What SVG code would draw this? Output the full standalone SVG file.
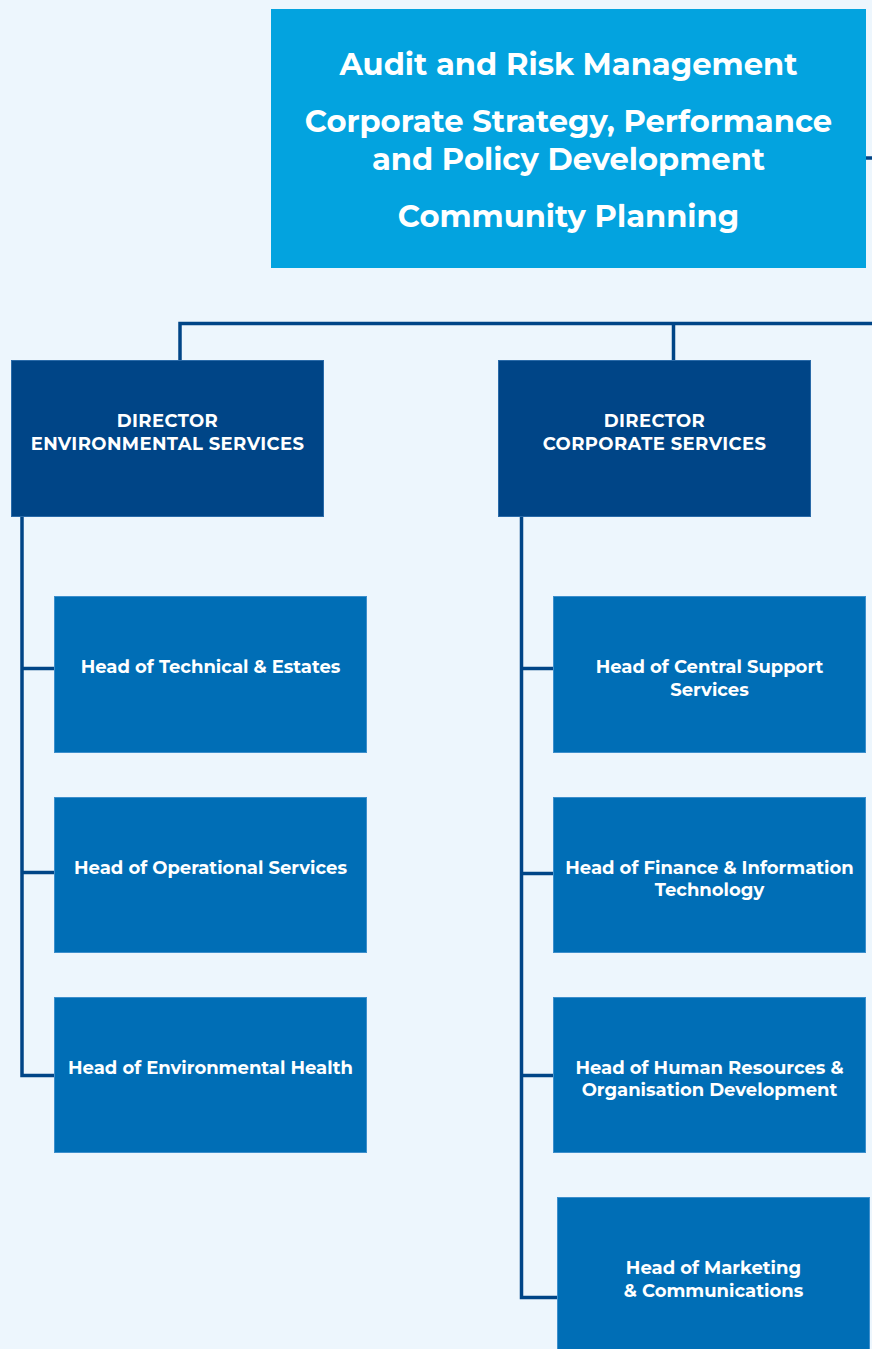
<svg xmlns="http://www.w3.org/2000/svg" width="872" height="1349" viewBox="0 0 872 1349">
<style>
.bg{fill:#edf6fd}
.top{fill:#03a3df}
.dir{fill:#004587;stroke:#2a6aa8;stroke-width:1}
.head{fill:#006eb6;stroke:#3d8fcc;stroke-width:1}
.conn{fill:none;stroke:#004587;stroke-width:3.5}
text{font-family:"Montserrat","Liberation Sans","Open Sans",Arial,sans-serif;font-weight:bold;fill:#ffffff;text-anchor:middle}
.t1{font-size:30.6px}
.t2{font-size:18px}
.t3{font-size:18px;letter-spacing:0.4px}
</style>
<rect class="bg" x="0" y="0" width="872" height="1349"/>
<g id="connectors">
<line class="conn" x1="866" y1="158" x2="872" y2="158"/>
<polyline class="conn" points="180,360 180,323.5 872,323.5"/>
<line class="conn" x1="673.5" y1="323.5" x2="673.5" y2="360"/>
<polyline class="conn" points="22,516 22,1075.5 54,1075.5"/>
<line class="conn" x1="22" y1="668.5" x2="54" y2="668.5"/>
<line class="conn" x1="22" y1="872.5" x2="54" y2="872.5"/>
<polyline class="conn" points="521.5,516 521.5,1297.5 557,1297.5"/>
<line class="conn" x1="521.5" y1="668.5" x2="553" y2="668.5"/>
<line class="conn" x1="521.5" y1="873.5" x2="553" y2="873.5"/>
<line class="conn" x1="521.5" y1="1075.5" x2="553" y2="1075.5"/>
</g>
<g id="node-top">
<rect class="top" x="271" y="9" width="595" height="259"/>
<text class="t1" x="568.5" y="75">Audit and Risk Management</text>
<text class="t1" x="568.5" y="132">Corporate Strategy, Performance</text>
<text class="t1" x="568.5" y="170">and Policy Development</text>
<text class="t1" x="568.5" y="227">Community Planning</text>
</g>
<g id="node-dir-env">
<rect class="dir" x="11.5" y="360.5" width="312" height="156"/>
<text class="t3" x="167.5" y="427">DIRECTOR</text>
<text class="t3" x="167.5" y="450">ENVIRONMENTAL SERVICES</text>
</g>
<g id="node-dir-corp">
<rect class="dir" x="498.5" y="360.5" width="312" height="156"/>
<text class="t3" x="654.5" y="427">DIRECTOR</text>
<text class="t3" x="654.5" y="450">CORPORATE SERVICES</text>
</g>
<g id="node-technical">
<rect class="head" x="54.5" y="596.5" width="312" height="156"/>
<text class="t2" x="210.5" y="673">Head of Technical &amp; Estates</text>
</g>
<g id="node-operational">
<rect class="head" x="54.5" y="797.5" width="312" height="155"/>
<text class="t2" x="210.5" y="874">Head of Operational Services</text>
</g>
<g id="node-envhealth">
<rect class="head" x="54.5" y="997.5" width="312" height="155"/>
<text class="t2" x="210.5" y="1074">Head of Environmental Health</text>
</g>
<g id="node-central">
<rect class="head" x="553.5" y="596.5" width="312" height="156"/>
<text class="t2" x="709.5" y="673">Head of Central Support</text>
<text class="t2" x="709.5" y="696">Services</text>
</g>
<g id="node-finance">
<rect class="head" x="553.5" y="797.5" width="312" height="155"/>
<text class="t2" x="709.5" y="874">Head of Finance &amp; Information</text>
<text class="t2" x="709.5" y="896">Technology</text>
</g>
<g id="node-hr">
<rect class="head" x="553.5" y="997.5" width="312" height="155"/>
<text class="t2" x="709.5" y="1074">Head of Human Resources &amp;</text>
<text class="t2" x="709.5" y="1096">Organisation Development</text>
</g>
<g id="node-marketing">
<rect class="head" x="557.5" y="1197.5" width="312" height="160"/>
<text class="t2" x="713.5" y="1274">Head of Marketing</text>
<text class="t2" x="713.5" y="1297">&amp; Communications</text>
</g>
</svg>
